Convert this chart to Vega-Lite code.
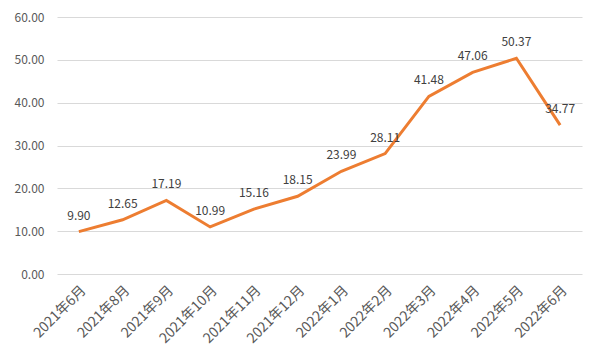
{
  "$schema": "https://vega.github.io/schema/vega-lite/v6.json",
  "autosize": "none",
  "width": 525,
  "height": 257,
  "padding": {"left": 57, "top": 17, "right": 18, "bottom": 82},
  "background": "white",
  "config": {
    "view": {"stroke": null},
    "font": "Noto Sans CJK SC"
  },
  "data": {
    "values": [
      {"month": "2021年6月", "value": 9.90},
      {"month": "2021年8月", "value": 12.65},
      {"month": "2021年9月", "value": 17.19},
      {"month": "2021年10月", "value": 10.99},
      {"month": "2021年11月", "value": 15.16},
      {"month": "2021年12月", "value": 18.15},
      {"month": "2022年1月", "value": 23.99},
      {"month": "2022年2月", "value": 28.11},
      {"month": "2022年3月", "value": 41.48},
      {"month": "2022年4月", "value": 47.06},
      {"month": "2022年5月", "value": 50.37},
      {"month": "2022年6月", "value": 34.77}
    ]
  },
  "encoding": {
    "x": {
      "field": "month", "type": "ordinal", "sort": null,
      "scale": {"type": "band", "paddingInner": 0, "paddingOuter": 0},
      "axis": {
        "title": null, "domain": false, "ticks": false,
        "labelAngle": -45, "labelAlign": "right", "labelBaseline": "top",
        "labelFontSize": 14, "labelColor": "#595959", "labelPadding": 9
      }
    },
    "y": {
      "field": "value", "type": "quantitative",
      "scale": {"domain": [0, 60], "nice": false},
      "axis": {
        "title": null, "domain": false, "ticks": false,
        "values": [0, 10, 20, 30, 40, 50, 60], "format": ".2f",
        "labelFontSize": 12, "labelColor": "#595959", "labelPadding": 13,
        "gridColor": "#D9D9D9", "gridWidth": 1
      }
    }
  },
  "layer": [
    {"mark": {"type": "line", "color": "#ED7D31", "strokeWidth": 3, "strokeJoin": "miter"}},
    {
      "mark": {"type": "text", "dy": -16, "fontSize": 12, "color": "#404040"},
      "encoding": {"text": {"field": "value", "type": "quantitative", "format": ".2f"}}
    }
  ]
}
